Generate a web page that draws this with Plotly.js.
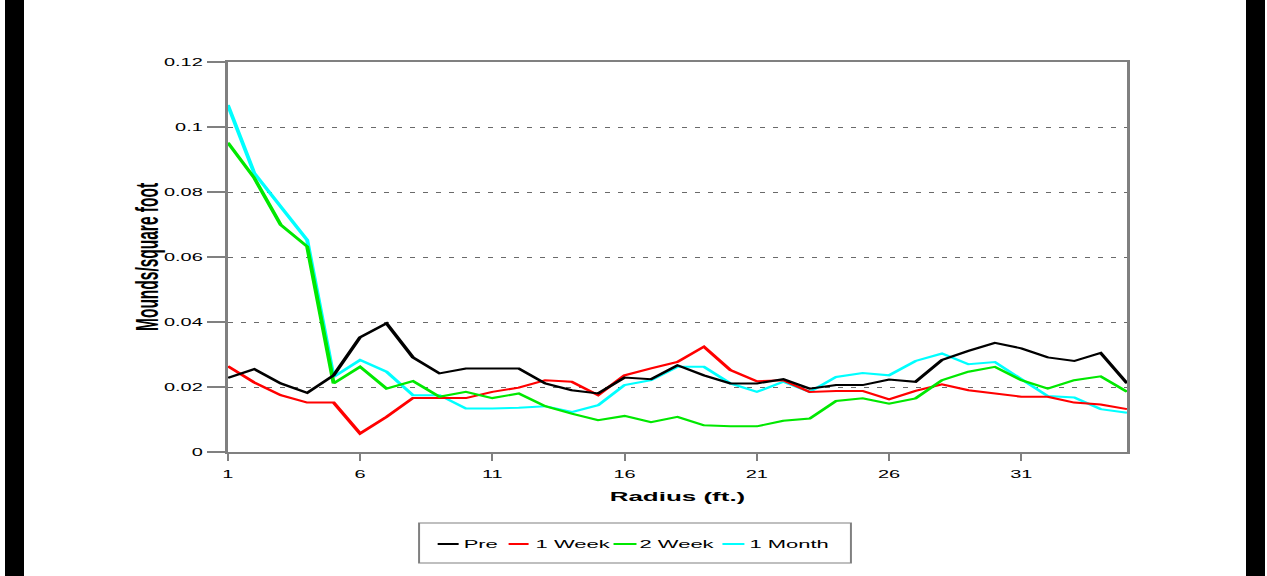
<!DOCTYPE html>
<html>
<head>
<meta charset="utf-8">
<script src="https://cdn.plot.ly/plotly-3.0.1.min.js"></script>
<style>
  html, body { margin: 0; padding: 0; background: #fff; overflow: hidden; }
  #page { position: relative; width: 1267px; height: 576px; background: #fff; }
  /* the chart is laid out at half width and stretched horizontally */
  #chart { position: absolute; left: 0; top: 0; width: 634px; height: 576px;
           transform: scaleX(1.998423); transform-origin: 0 0; }
  .edge { position: absolute; top: 0; width: 19px; height: 576px; background: #000; }
</style>
</head>
<body>
<div id="page">
  <div id="chart"></div>
  <div class="edge" style="left:5px"></div>
  <div class="edge" style="left:1246px"></div>
</div>
<script>
// Radius from the centre (ft.)
const radius = [1,2,3,4,5,6,7,8,9,10,11,12,13,14,15,16,17,18,19,20,
                21,22,23,24,25,26,27,28,29,30,31,32,33,34,35];

// Mounds per square foot at each radius
const pre = [0.0228,0.0255,0.0211,0.0182,0.0236,0.0353,0.0396,0.0291,0.0242,0.0257,
             0.0257,0.0257,0.0211,0.0190,0.0180,0.0229,0.0224,0.0267,0.0236,0.0211,
             0.0211,0.0224,0.0195,0.0206,0.0206,0.0223,0.0216,0.0283,0.0311,0.0336,
             0.0319,0.0291,0.0280,0.0305,0.0211];
const week1 = [0.0264,0.0214,0.0175,0.0152,0.0152,0.0057,0.0108,0.0166,0.0166,0.0166,
               0.0185,0.0198,0.0221,0.0216,0.0175,0.0236,0.0257,0.0277,0.0324,0.0252,
               0.0218,0.0221,0.0185,0.0188,0.0188,0.0162,0.0188,0.0208,0.0190,0.0180,
               0.0170,0.0170,0.0152,0.0146,0.0132];
const week2 = [0.0952,0.0843,0.0699,0.0632,0.0211,0.0262,0.0195,0.0218,0.0170,0.0185,
               0.0166,0.0180,0.0141,0.0118,0.0098,0.0111,0.0092,0.0108,0.0082,0.0079,
               0.0079,0.0096,0.0103,0.0157,0.0165,0.0149,0.0165,0.0221,0.0247,0.0262,
               0.0221,0.0195,0.0221,0.0233,0.0185];
const month1 = [0.1068,0.0858,0.0755,0.0652,0.0231,0.0283,0.0247,0.0175,0.0175,0.0134,
                0.0134,0.0136,0.0141,0.0123,0.0144,0.0206,0.0221,0.0262,0.0262,0.0211,
                0.0185,0.0216,0.0185,0.0231,0.0243,0.0236,0.0280,0.0303,0.0270,0.0277,
                0.0224,0.0172,0.0168,0.0132,0.0121];

const seriesNames  = ["Pre", "1 Week", "2 Week", "1 Month"];
const seriesValues = [pre, week1, week2, month1];
const seriesColors = ["#000000", "#ff0000", "#00e800", "#00ffff"];
const drawOrder    = [3, 1, 2, 0];

const xTickVals = [1, 6, 11, 16, 21, 26, 31];
const yTickVals = [0, 0.02, 0.04, 0.06, 0.08, 0.1, 0.12];

const xTitle = "Radius (ft.)";
const yTitle = "Mounds/square foot";

// plot frame (px, in the half-width layout)
const FRAME = { l: 114, t: 62, w: 450, h: 390, W: 634, H: 576 };
const px2x = hx => (hx - FRAME.l) / FRAME.w;
const px2y = py => (FRAME.t + FRAME.h - py) / FRAME.h;

const FONT = "Liberation Sans, Arial, sans-serif";
const AXIS_GREY = "#808080";

const traces = drawOrder.map(i => ({
  type: "scatter",
  mode: "lines",
  name: seriesNames[i],
  x: radius,
  y: seriesValues[i],
  line: { color: seriesColors[i], width: 2 },
  hoverinfo: "skip",
  showlegend: false
}));

// boxed legend below the axis
const legendBox = { x0: 209.7, x1: 425.8, y0: 523, y1: 563, yText: 544 };
const legendSlots = [
  { line: [219, 229.5], text: 230.2 },
  { line: [254.5, 264.5], text: 266.2 },
  { line: [307, 318.5], text: 318.2 },
  { line: [361.5, 372.5], text: 373.2 }
];

const shapes = [{
  type: "rect", xref: "paper", yref: "paper", layer: "above",
  x0: px2x(legendBox.x0), x1: px2x(legendBox.x1),
  y0: px2y(legendBox.y1), y1: px2y(legendBox.y0),
  line: { color: AXIS_GREY, width: 1 }, fillcolor: "rgba(0,0,0,0)"
}];
const annotations = [];
seriesNames.forEach((name, i) => {
  const slot = legendSlots[i];
  shapes.push({
    type: "line", xref: "paper", yref: "paper", layer: "above",
    x0: px2x(slot.line[0]), x1: px2x(slot.line[1]),
    y0: px2y(legendBox.yText), y1: px2y(legendBox.yText),
    line: { color: seriesColors[i], width: 2 }
  });
  annotations.push({
    xref: "paper", yref: "paper", showarrow: false,
    x: px2x(slot.text), y: px2y(legendBox.yText),
    xanchor: "left", yanchor: "middle",
    text: name, font: { family: FONT, size: 11, color: "#000" }
  });
});

// vertical axis title, set beside the tick labels
annotations.push({
  xref: "paper", yref: "paper", showarrow: false,
  x: px2x(73), y: 0.5, xanchor: "center", yanchor: "middle",
  textangle: -90, text: "<b>" + yTitle + "</b>",
  font: { family: FONT, size: 15.5, color: "#000" }
});

const layout = {
  width: FRAME.W, height: FRAME.H,
  margin: { l: FRAME.l, r: FRAME.W - FRAME.l - FRAME.w, t: FRAME.t, b: FRAME.H - FRAME.t - FRAME.h, pad: 0 },
  paper_bgcolor: "#ffffff", plot_bgcolor: "#ffffff",
  showlegend: false,
  font: { family: FONT, size: 10, color: "#000" },
  xaxis: {
    range: [1, 35], tickmode: "array", tickvals: xTickVals,
    ticks: "outside", ticklen: 7, tickwidth: 1, tickcolor: AXIS_GREY,
    showline: true, linecolor: AXIS_GREY, linewidth: 2, mirror: true,
    showgrid: false, zeroline: false, automargin: false,
    tickfont: { family: FONT, size: 10, color: "#000" },
    ticklabelstandoff: 5,
    title: { text: xTitle, standoff: 13,
             font: { family: FONT, size: 13, color: "#000", weight: "bold" } }
  },
  yaxis: {
    range: [0, 0.12], tickmode: "array", tickvals: yTickVals,
    ticks: "outside", ticklen: 9, tickwidth: 1.5, tickcolor: AXIS_GREY,
    showline: true, linecolor: AXIS_GREY, linewidth: 1.5, mirror: true,
    showgrid: true, gridcolor: "#6a6a6a", gridwidth: 1, griddash: "2.5px,4px",
    zeroline: false, automargin: false,
    tickfont: { family: FONT, size: 10, color: "#000" },
    ticklabelstandoff: 1.5
  },
  // companion axes carry the inner half of each tick mark
  xaxis2: {
    overlaying: "x", anchor: "y", range: [1, 35], tickmode: "array", tickvals: xTickVals,
    ticks: "inside", ticklen: 12, tickwidth: 1, tickcolor: AXIS_GREY,
    showticklabels: false, showgrid: false, zeroline: false, showline: false
  },
  yaxis2: {
    overlaying: "y", anchor: "x", side: "left", range: [0, 0.12], tickmode: "array", tickvals: yTickVals,
    ticks: "inside", ticklen: 9, tickwidth: 1.5, tickcolor: AXIS_GREY,
    showticklabels: false, showgrid: false, zeroline: false, showline: false
  },
  shapes: shapes,
  annotations: annotations
};

Plotly.newPlot("chart", traces, layout, { displayModeBar: false, staticPlot: true });
</script>
</body>
</html>
